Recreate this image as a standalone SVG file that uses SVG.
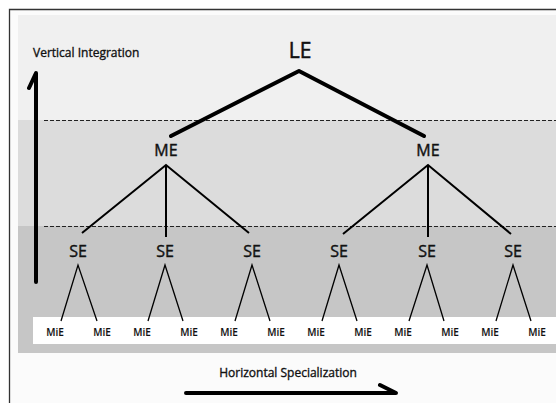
<svg xmlns="http://www.w3.org/2000/svg" width="556" height="403" viewBox="0 0 556 403">
<style>
.lbl{font-family:"Open Sans","Noto Sans","Liberation Sans",sans-serif;fill:#111;text-anchor:middle;stroke:#111;stroke-width:0.35}
.big{font-size:21px;stroke-width:0.5}
.me{font-size:16px;stroke-width:0.4}
.mie{font-size:10px;font-weight:600;stroke-width:0.1}
.axis{font-size:12px}
.thick{stroke:#000;stroke-width:4;fill:none;stroke-linecap:round;stroke-linejoin:round}
.thin{stroke:#000;stroke-width:2;fill:none}
.fine{stroke:#000;stroke-width:1.3;fill:none}
.dash{stroke:#222;stroke-width:1;stroke-dasharray:4 2;fill:none}
.frame{stroke:#333;stroke-width:1.3;fill:none}
</style>
<rect x="0" y="0" width="556" height="403" fill="#ffffff"/>
<rect x="9.5" y="9.5" width="547" height="394" fill="#fbfbfb"/>
<path class="frame" d="M9.5,403 V9.5 H556"/>
<g id="bands">
<rect x="18" y="15" width="538" height="105" fill="#f0f0f0"/>
<rect x="18" y="120" width="538" height="106" fill="#dcdcdc"/>
<rect x="18" y="226" width="538" height="127" fill="#c6c6c6"/>
<rect x="33" y="317" width="523" height="27" fill="#ffffff"/>
<line class="dash" x1="44" y1="120.5" x2="556" y2="120.5"/>
<line class="dash" x1="44" y1="226.5" x2="556" y2="226.5"/>
</g>
<g id="connectors">
<polyline class="thick" points="171,136 299,71 424,136"/>
<path class="thin" d="M82,233 L166,165 L249,233 M166,165 V237"/>
<path class="thin" d="M343,234 L428,165 L511,234 M428,165 V237"/>
<path class="fine" d="M61,321 L78,265 L97,321"/>
<path class="fine" d="M148,321 L165,265 L183,321"/>
<path class="fine" d="M235,321 L252,265 L270,321"/>
<path class="fine" d="M322,321 L339,265 L357,321"/>
<path class="fine" d="M409,321 L427,265 L444,321"/>
<path class="fine" d="M496,321 L513,265 L531,321"/>
</g>
<g id="axis-vertical">
<path class="thick" d="M36,282 V73 L29,88"/>
<text class="lbl axis" x="33" y="57" style="text-anchor:start">Vertical Integration</text>
</g>
<g id="axis-horizontal">
<path class="thick" d="M186,393 H396 L380,385"/>
<text class="lbl axis" x="288" y="377">Horizontal Specialization</text>
</g>
<g id="LE"><text class="lbl big" x="300" y="58">LE</text></g>
<g id="ME1"><text class="lbl me" x="166" y="156">ME</text></g>
<g id="ME2"><text class="lbl me" x="428" y="156">ME</text></g>
<g id="SE1"><text class="lbl me" x="78" y="257">SE</text></g>
<g id="SE2"><text class="lbl me" x="165" y="257">SE</text></g>
<g id="SE3"><text class="lbl me" x="252" y="257">SE</text></g>
<g id="SE4"><text class="lbl me" x="339" y="257">SE</text></g>
<g id="SE5"><text class="lbl me" x="427" y="257">SE</text></g>
<g id="SE6"><text class="lbl me" x="513" y="257">SE</text></g>
<g id="MiE1"><text class="lbl mie" x="55" y="336">MiE</text></g>
<g id="MiE2"><text class="lbl mie" x="102" y="336">MiE</text></g>
<g id="MiE3"><text class="lbl mie" x="142" y="336">MiE</text></g>
<g id="MiE4"><text class="lbl mie" x="189" y="336">MiE</text></g>
<g id="MiE5"><text class="lbl mie" x="229" y="336">MiE</text></g>
<g id="MiE6"><text class="lbl mie" x="276" y="336">MiE</text></g>
<g id="MiE7"><text class="lbl mie" x="316" y="336">MiE</text></g>
<g id="MiE8"><text class="lbl mie" x="363" y="336">MiE</text></g>
<g id="MiE9"><text class="lbl mie" x="403" y="336">MiE</text></g>
<g id="MiE10"><text class="lbl mie" x="450" y="336">MiE</text></g>
<g id="MiE11"><text class="lbl mie" x="490" y="336">MiE</text></g>
<g id="MiE12"><text class="lbl mie" x="537" y="336">MiE</text></g>
</svg>
